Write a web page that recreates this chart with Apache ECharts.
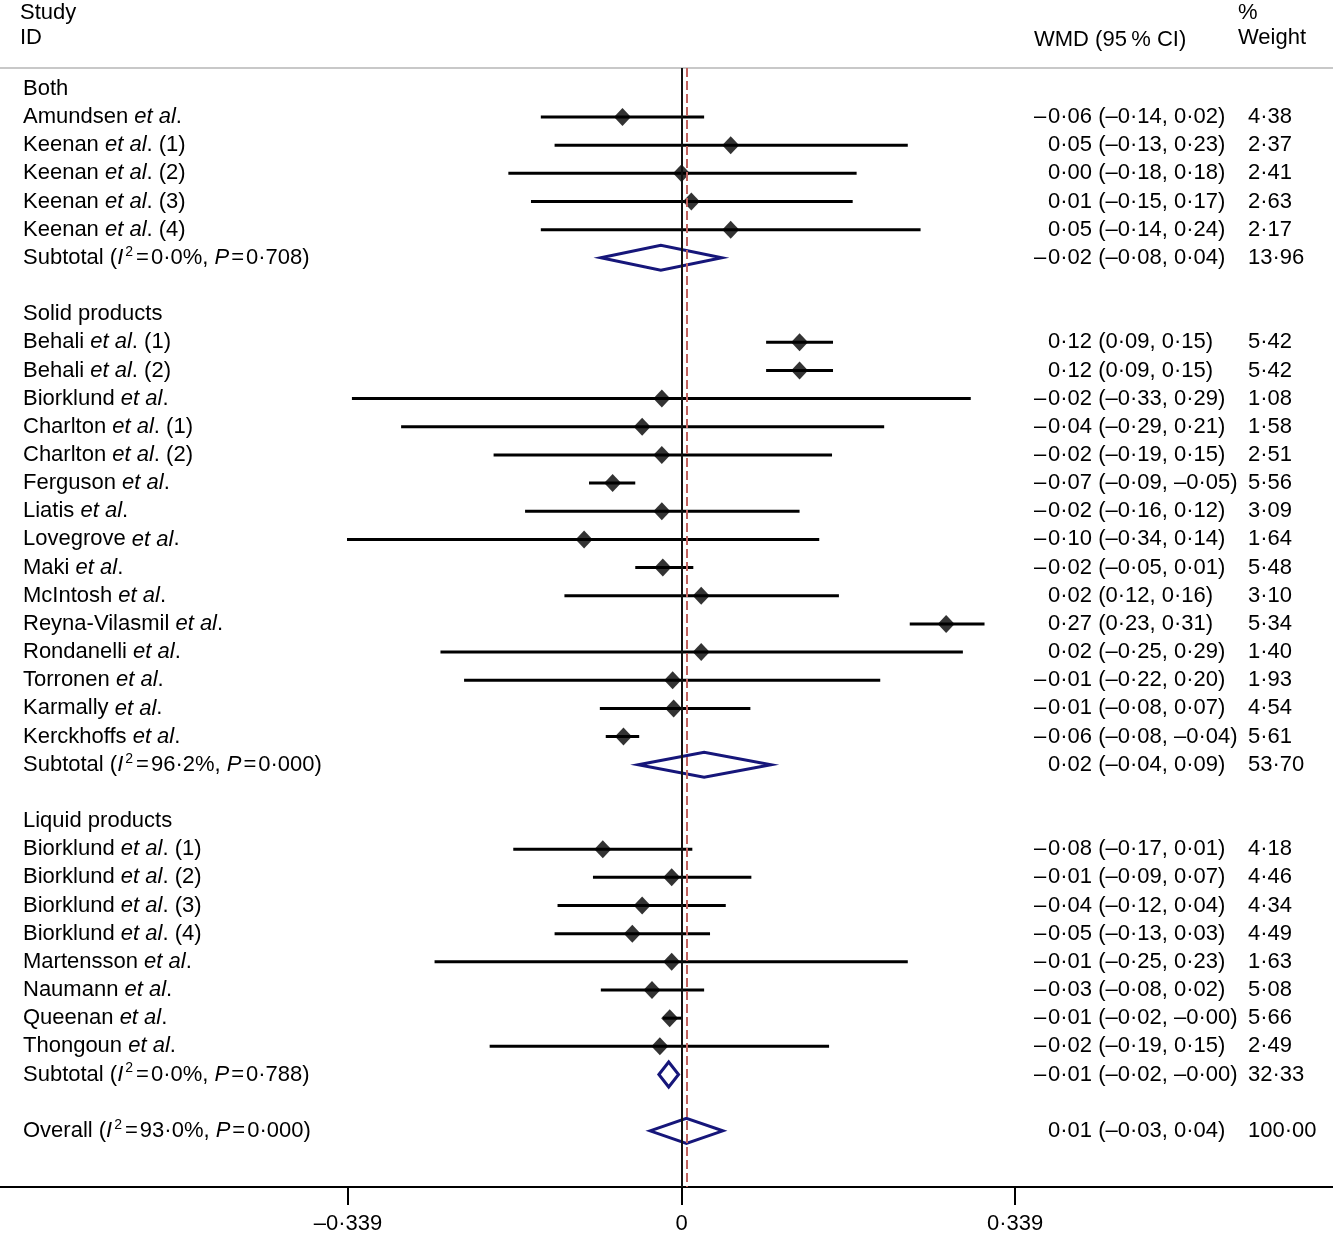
<!DOCTYPE html>
<html><head><meta charset="utf-8">
<script src="https://cdn.jsdelivr.net/npm/echarts@6/dist/echarts.min.js"></script>
<style>html,body{margin:0;padding:0;background:#fff}#c{width:1333px;height:1238px}</style>
</head><body><div id="c"></div>
<script>
// ---------- data ----------
const rowLabels = [
  'Both',
  'Amundsen et al.',
  'Keenan et al. (1)',
  'Keenan et al. (2)',
  'Keenan et al. (3)',
  'Keenan et al. (4)',
  'Subtotal (I²=0·0%, P=0·708)',
  '',
  'Solid products',
  'Behali et al. (1)',
  'Behali et al. (2)',
  'Biorklund et al.',
  'Charlton et al. (1)',
  'Charlton et al. (2)',
  'Ferguson et al.',
  'Liatis et al.',
  'Lovegrove et al.',
  'Maki et al.',
  'McIntosh et al.',
  'Reyna-Vilasmil et al.',
  'Rondanelli et al.',
  'Torronen et al.',
  'Karmally et al.',
  'Kerckhoffs et al.',
  'Subtotal (I²=96·2%, P=0·000)',
  '',
  'Liquid products',
  'Biorklund et al. (1)',
  'Biorklund et al. (2)',
  'Biorklund et al. (3)',
  'Biorklund et al. (4)',
  'Martensson et al.',
  'Naumann et al.',
  'Queenan et al.',
  'Thongoun et al.',
  'Subtotal (I²=0·0%, P=0·788)',
  '',
  'Overall (I²=93·0%, P=0·000)'
];
const wmdLabels = [
  '',
  '–0·06 (–0·14, 0·02)',
  '0·05 (–0·13, 0·23)',
  '0·00 (–0·18, 0·18)',
  '0·01 (–0·15, 0·17)',
  '0·05 (–0·14, 0·24)',
  '–0·02 (–0·08, 0·04)',
  '',
  '',
  '0·12 (0·09, 0·15)',
  '0·12 (0·09, 0·15)',
  '–0·02 (–0·33, 0·29)',
  '–0·04 (–0·29, 0·21)',
  '–0·02 (–0·19, 0·15)',
  '–0·07 (–0·09, –0·05)',
  '–0·02 (–0·16, 0·12)',
  '–0·10 (–0·34, 0·14)',
  '–0·02 (–0·05, 0·01)',
  '0·02 (0·12, 0·16)',
  '0·27 (0·23, 0·31)',
  '0·02 (–0·25, 0·29)',
  '–0·01 (–0·22, 0·20)',
  '–0·01 (–0·08, 0·07)',
  '–0·06 (–0·08, –0·04)',
  '0·02 (–0·04, 0·09)',
  '',
  '',
  '–0·08 (–0·17, 0·01)',
  '–0·01 (–0·09, 0·07)',
  '–0·04 (–0·12, 0·04)',
  '–0·05 (–0·13, 0·03)',
  '–0·01 (–0·25, 0·23)',
  '–0·03 (–0·08, 0·02)',
  '–0·01 (–0·02, –0·00)',
  '–0·02 (–0·19, 0·15)',
  '–0·01 (–0·02, –0·00)',
  '',
  '0·01 (–0·03, 0·04)'
];
const weightLabels = [
  '', '4·38', '2·37', '2·41', '2·63', '2·17', '13·96', '',
  '', '5·42', '5·42', '1·08', '1·58', '2·51', '5·56', '3·09', '1·64', '5·48', '3·10', '5·34', '1·40', '1·93', '4·54', '5·61', '53·70', '',
  '', '4·18', '4·46', '4·34', '4·49', '1·63', '5·08', '5·66', '2·49', '32·33', '',
  '100·00'
];

// individual studies (row index, estimate, lower, upper) as plotted
const studyRows = [1,2,3,4,5, 9,10,11,12,13,14,15,16,17,18,19,20,21,22,23, 27,28,29,30,31,32,33,34];
const studyEst = [-0.060, 0.050, 0.000, 0.010, 0.050,
  0.120, 0.120, -0.020, -0.040, -0.020, -0.070, -0.020, -0.099, -0.019, 0.020, 0.269, 0.020, -0.009, -0.008, -0.059,
  -0.080, -0.010, -0.040, -0.050, -0.010, -0.030, -0.012, -0.022];
const studyLo = [-0.143, -0.129, -0.176, -0.153, -0.143,
  0.086, 0.086, -0.335, -0.285, -0.191, -0.094, -0.159, -0.340, -0.047, -0.119, 0.232, -0.245, -0.221, -0.083, -0.077,
  -0.171, -0.090, -0.126, -0.129, -0.251, -0.082, -0.019, -0.195];
const studyHi = [0.023, 0.230, 0.178, 0.174, 0.243,
  0.154, 0.154, 0.294, 0.206, 0.153, -0.047, 0.120, 0.140, 0.012, 0.160, 0.308, 0.286, 0.202, 0.070, -0.043,
  0.011, 0.071, 0.045, 0.029, 0.230, 0.023, 0.000, 0.150];

// pooled estimates (subtotals and overall)
const pooledRows = [6, 24, 35, 37];
const pooledEst = [-0.021, 0.023, -0.013, 0.005];
const pooledLo = [-0.082, -0.044, -0.023, -0.032];
const pooledHi = [0.041, 0.091, -0.003, 0.042];
const overallEst = 0.005;

const tickValues = [-0.339, 0, 0.339];
const tickLabels = ['–0·339', '0', '0·339'];

// ---------- layout ----------
const FONT = '"Liberation Sans", Arial, Helvetica, sans-serif';
const FS = 22;
const xMin = -0.6927, xMax = 0.6622;
const yMin = -0.74, yMax = 38.995;
const rowIdx = rowLabels.map((_, i) => i);

function fmtLeft(s) {
  if (!s) return '';
  const re = /(et al)|(I²)|(P(?==))|(=)/g;
  let out = '', last = 0, m;
  while ((m = re.exec(s))) {
    if (m.index > last) out += '{n|' + s.slice(last, m.index) + '}';
    if (m[1]) out += '{i|et al}';
    else if (m[2]) out += '{i|I}{sp|2}';
    else if (m[3]) out += '{i|P}';
    else out += '{eq|=}';
    last = re.lastIndex;
  }
  if (last < s.length) out += '{n|' + s.slice(last) + '}';
  return out;
}
function fmtRight(v) {
  const i = Math.round(v);
  const w = wmdLabels[i];
  if (!w) return '';
  const neg = w.charAt(0) === '–';
  return '{s|' + (neg ? '–' : ' ') + '}{w|' + (neg ? w.slice(1) : w) + '}{p|' + weightLabels[i] + '}';
}

const base = { fontFamily: FONT, fontSize: FS, color: '#000', lineHeight: 26 };
const richLeft = {
  n: Object.assign({}, base),
  i: Object.assign({}, base, { fontStyle: 'italic' }),
  eq: Object.assign({}, base, { padding: [0, 2, 0, 2] }),
  sp: { fontFamily: FONT, fontSize: 14, color: '#000', lineHeight: 17, verticalAlign: 'top', padding: [0, 1, 0, 2] }
};
const richRight = {
  s: Object.assign({}, base, { width: 14, align: 'left' }),
  w: Object.assign({}, base, { width: 200, align: 'left' }),
  p: Object.assign({}, base, { width: 85, align: 'left' })
};

const ciData = studyRows.map((r, k) => [studyLo[k], studyHi[k], r]);
const ptData = studyRows.map((r, k) => [studyEst[k], r]);
const poolData = pooledRows.map((r, k) => [pooledLo[k], pooledEst[k], pooledHi[k], r]);

const titleStyle = { fontFamily: FONT, fontSize: FS, fontWeight: 'normal', color: '#000', lineHeight: 25 };

const option = {
  animation: false,
  backgroundColor: '#fff',
  title: [
    { text: 'Study\nID', left: 20, top: 0, padding: 0, textStyle: titleStyle },
    { text: 'WMD (95\u2009% CI)', left: 1034, top: 27, padding: 0, textStyle: titleStyle },
    { text: '%\nWeight', left: 1238, top: 0, padding: 0, textStyle: titleStyle }
  ],
  grid: { left: 0, right: 0, top: 68, bottom: 51, containLabel: false, outerBoundsMode: 'none' },
  xAxis: [
    {
      type: 'value', min: xMin, max: xMax, position: 'bottom',
      axisLine: { show: true, onZero: false, lineStyle: { color: '#000', width: 2 } },
      axisTick: { show: true, customValues: tickValues, length: 18, inside: false, lineStyle: { color: '#000', width: 2 } },
      axisLabel: {
        customValues: tickValues, margin: 26, fontFamily: FONT, fontSize: FS, color: '#000',
        formatter: v => {
          let best = 0;
          tickValues.forEach((t, i) => { if (Math.abs(t - v) < Math.abs(tickValues[best] - v)) best = i; });
          return tickLabels[best];
        }
      },
      splitLine: { show: false }
    },
    {
      type: 'value', min: xMin, max: xMax, position: 'top',
      axisLine: { show: true, onZero: false, lineStyle: { color: '#c8c8c8', width: 2 } },
      axisTick: { show: false }, axisLabel: { show: false }, splitLine: { show: false }
    }
  ],
  yAxis: [
    {
      type: 'value', min: yMin, max: yMax, inverse: true, position: 'left',
      axisLine: { show: false, onZero: false }, axisTick: { show: false }, splitLine: { show: false },
      axisLabel: {
        inside: true, margin: 23, customValues: rowIdx, fontFamily: FONT, fontSize: FS, color: '#000',
        formatter: v => fmtLeft(rowLabels[Math.round(v)]), rich: richLeft
      }
    },
    {
      type: 'value', min: yMin, max: yMax, inverse: true, position: 'right',
      axisLine: { show: false, onZero: false }, axisTick: { show: false }, splitLine: { show: false },
      axisLabel: {
        inside: true, margin: 0, customValues: rowIdx, fontFamily: FONT, fontSize: FS, color: '#000',
        formatter: fmtRight, rich: richRight
      }
    }
  ],
  series: [
    {
      name: 'CI', type: 'custom', xAxisIndex: 0, yAxisIndex: 0, z: 2,
      dimensions: ['lo', 'hi', 'row'],
      encode: { x: [0, 1], y: 2 },
      data: ciData,
      renderItem: (params, api) => {
        const p1 = api.coord([api.value(0), api.value(2)]);
        const p2 = api.coord([api.value(1), api.value(2)]);
        return { type: 'line', shape: { x1: p1[0], y1: p1[1], x2: p2[0], y2: p2[1] },
                 style: { stroke: '#000', lineWidth: 3 } };
      }
    },
    {
      name: 'Estimate', type: 'scatter', xAxisIndex: 0, yAxisIndex: 0, z: 4,
      symbol: 'diamond', symbolSize: [17, 18],
      itemStyle: { color: '#000' },
      data: ptData,
      markLine: {
        silent: true, symbol: ['none', 'none'], label: { show: false }, precision: 6,
        data: [
          { xAxis: 0, lineStyle: { color: '#111', width: 2, type: 'solid' } },
          { xAxis: overallEst, lineStyle: { color: '#c0625f', width: 2, type: [9, 4] } }
        ]
      }
    },
    {
      name: 'Pooled', type: 'custom', xAxisIndex: 0, yAxisIndex: 0, z: 3,
      dimensions: ['lo', 'est', 'hi', 'row'],
      encode: { x: [0, 1, 2], y: 3 },
      data: poolData,
      renderItem: (params, api) => {
        const r = api.value(3);
        const a = api.coord([api.value(0), r]);
        const c = api.coord([api.value(1), r]);
        const b = api.coord([api.value(2), r]);
        const h = 12.5;
        return { type: 'polygon',
                 shape: { points: [a, [c[0], c[1] - h], b, [c[0], c[1] + h]] },
                 style: { fill: 'none', stroke: '#16167a', lineWidth: 3, lineJoin: 'miter' } };
      }
    }
  ]
};

const chart = echarts.init(document.getElementById('c'), null, { renderer: 'canvas' });
chart.setOption(option);
</script>
</body></html>
